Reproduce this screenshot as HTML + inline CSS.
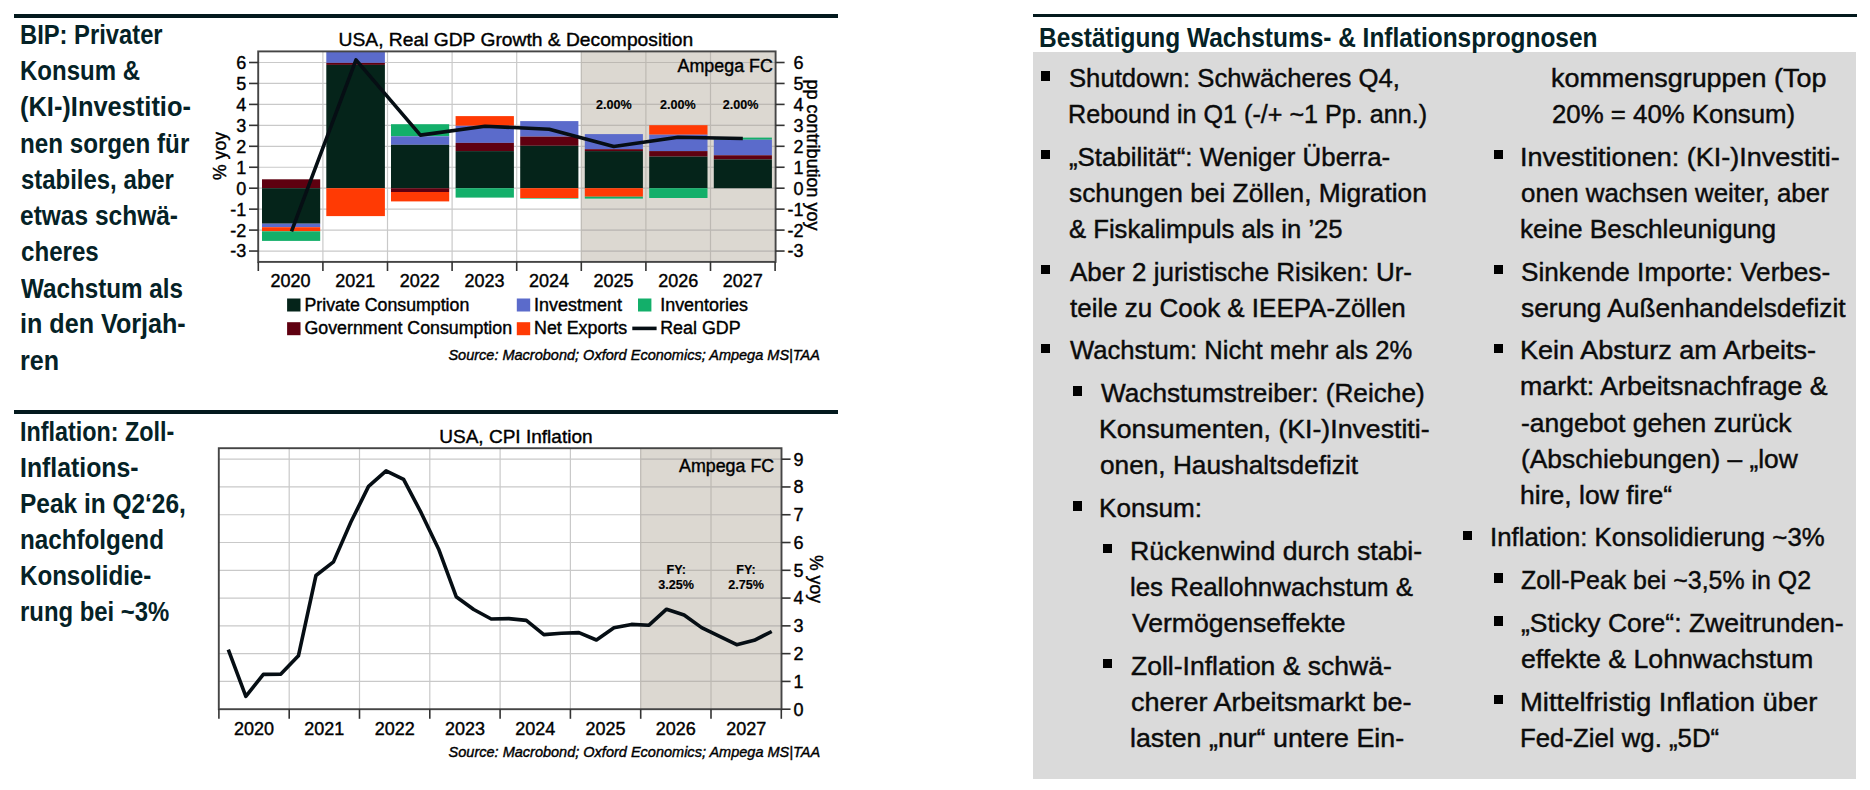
<!DOCTYPE html>
<html lang="de"><head><meta charset="utf-8"><title>Bestätigung Wachstums- &amp; Inflationsprognosen</title>
<style>
html,body{margin:0;padding:0;background:#fff;}
body{width:1870px;height:790px;overflow:hidden;position:relative;font-family:"Liberation Sans",sans-serif;}
.rule{position:absolute;height:3.5px;background:#03191d;}
.box{position:absolute;left:1033px;top:52.3px;width:822.8px;height:726.4px;background:#dadada;}
.t{position:absolute;white-space:nowrap;line-height:1;transform-origin:0 0;}
.bu{position:absolute;width:9.4px;height:9.6px;background:#000;}
.ch{position:absolute;left:0;top:0;}
.ch .g{stroke:#c9c9c9;stroke-width:1.2;}
.ch .gs{stroke:#bdb9b3;stroke-width:1.2;}
.ch .fr{fill:none;stroke:#454545;stroke-width:1.9;}
.ch .tk{stroke:#333;stroke-width:1.6;}
.ch .ax{font-family:"Liberation Sans",sans-serif;font-size:18px;fill:#000;stroke:#000;stroke-width:0.4px;}
</style></head><body>
<div class="rule" style="left:13.6px;top:14px;width:824.4px"></div>
<div class="rule" style="left:13.6px;top:410.4px;width:824.4px"></div>
<div class="rule" style="left:1033px;top:13.8px;width:824px"></div>
<div class="box"></div>
<svg class="ch" width="840" height="790" viewBox="0 0 840 790"><rect x="581.5" y="51.4" width="194.1" height="210.5" fill="#dcd8d1"/>
<line x1="258.2" x2="775.6" y1="251.05" y2="251.05" class="g"/>
<line x1="258.2" x2="775.6" y1="230.1" y2="230.1" class="g"/>
<line x1="258.2" x2="775.6" y1="209.15" y2="209.15" class="g"/>
<line x1="258.2" x2="775.6" y1="188.2" y2="188.2" class="g"/>
<line x1="258.2" x2="775.6" y1="167.25" y2="167.25" class="g"/>
<line x1="258.2" x2="775.6" y1="146.3" y2="146.3" class="g"/>
<line x1="258.2" x2="775.6" y1="125.35" y2="125.35" class="g"/>
<line x1="258.2" x2="775.6" y1="104.4" y2="104.4" class="g"/>
<line x1="258.2" x2="775.6" y1="83.45" y2="83.45" class="g"/>
<line x1="258.2" x2="775.6" y1="62.5" y2="62.5" class="g"/>
<line x1="322.9" x2="322.9" y1="51.4" y2="261.9" class="g"/>
<line x1="387.5" x2="387.5" y1="51.4" y2="261.9" class="g"/>
<line x1="452.1" x2="452.1" y1="51.4" y2="261.9" class="g"/>
<line x1="516.7" x2="516.7" y1="51.4" y2="261.9" class="g"/>
<line x1="581.3" x2="581.3" y1="51.4" y2="261.9" class="gs"/>
<line x1="645.9" x2="645.9" y1="51.4" y2="261.9" class="gs"/>
<line x1="710.5" x2="710.5" y1="51.4" y2="261.9" class="gs"/>
<line x1="581.5" x2="775.6" y1="251.05" y2="251.05" class="gs"/>
<line x1="581.5" x2="775.6" y1="230.1" y2="230.1" class="gs"/>
<line x1="581.5" x2="775.6" y1="209.15" y2="209.15" class="gs"/>
<line x1="581.5" x2="775.6" y1="188.2" y2="188.2" class="gs"/>
<line x1="581.5" x2="775.6" y1="167.25" y2="167.25" class="gs"/>
<line x1="581.5" x2="775.6" y1="146.3" y2="146.3" class="gs"/>
<line x1="581.5" x2="775.6" y1="125.35" y2="125.35" class="gs"/>
<line x1="581.5" x2="775.6" y1="104.4" y2="104.4" class="gs"/>
<line x1="581.5" x2="775.6" y1="83.45" y2="83.45" class="gs"/>
<line x1="581.5" x2="775.6" y1="62.5" y2="62.5" class="gs"/>
<rect x="262.0" y="179.3" width="58.2" height="8.9" fill="#5f0010"/>
<rect x="262.0" y="188.2" width="58.2" height="35.5" fill="#05241a"/>
<rect x="262.0" y="223.7" width="58.2" height="3.5" fill="#5b6bcb"/>
<rect x="262.0" y="227.2" width="58.2" height="4.1" fill="#ff3a04"/>
<rect x="262.0" y="231.3" width="58.2" height="9.6" fill="#13af6a"/>
<rect x="326.3" y="51.4" width="58.6" height="11.5" fill="#5b6bcb"/>
<rect x="326.3" y="62.9" width="58.6" height="2" fill="#5f0010"/>
<rect x="326.3" y="64.9" width="58.6" height="123.3" fill="#05241a"/>
<rect x="326.3" y="188.2" width="58.6" height="27.9" fill="#ff3a04"/>
<rect x="391.0" y="124.2" width="58.2" height="12.1" fill="#13af6a"/>
<rect x="391.0" y="136.3" width="58.2" height="8.5" fill="#5b6bcb"/>
<rect x="391.0" y="144.8" width="58.2" height="43.4" fill="#05241a"/>
<rect x="391.0" y="188.2" width="58.2" height="3.8" fill="#5f0010"/>
<rect x="391.0" y="192.0" width="58.2" height="9.4" fill="#ff3a04"/>
<rect x="455.6" y="116.1" width="58.3" height="9.7" fill="#ff3a04"/>
<rect x="455.6" y="125.8" width="58.3" height="17.1" fill="#5b6bcb"/>
<rect x="455.6" y="142.9" width="58.3" height="8.2" fill="#5f0010"/>
<rect x="455.6" y="151.1" width="58.3" height="37.1" fill="#05241a"/>
<rect x="455.6" y="188.2" width="58.3" height="9.4" fill="#13af6a"/>
<rect x="520.2" y="121.1" width="58.2" height="15.5" fill="#5b6bcb"/>
<rect x="520.2" y="136.6" width="58.2" height="9.2" fill="#5f0010"/>
<rect x="520.2" y="145.8" width="58.2" height="42.4" fill="#05241a"/>
<rect x="520.2" y="188.2" width="58.2" height="9.8" fill="#ff3a04"/>
<rect x="520.2" y="198.0" width="58.2" height="0.6" fill="#13af6a"/>
<rect x="584.8" y="134.1" width="58.1" height="15.1" fill="#5b6bcb"/>
<rect x="584.8" y="149.2" width="58.1" height="1.9" fill="#5f0010"/>
<rect x="584.8" y="151.1" width="58.1" height="37.1" fill="#05241a"/>
<rect x="584.8" y="188.2" width="58.1" height="8.5" fill="#ff3a04"/>
<rect x="584.8" y="196.7" width="58.1" height="1.9" fill="#13af6a"/>
<rect x="649.2" y="125.2" width="58.3" height="9.5" fill="#ff3a04"/>
<rect x="649.2" y="134.7" width="58.3" height="16.4" fill="#5b6bcb"/>
<rect x="649.2" y="151.1" width="58.3" height="5.5" fill="#5f0010"/>
<rect x="649.2" y="156.6" width="58.3" height="31.6" fill="#05241a"/>
<rect x="649.2" y="188.2" width="58.3" height="9.8" fill="#13af6a"/>
<rect x="713.8" y="137.6" width="58.1" height="2.1" fill="#13af6a"/>
<rect x="713.8" y="139.7" width="58.1" height="15.6" fill="#5b6bcb"/>
<rect x="713.8" y="155.3" width="58.1" height="4.1" fill="#5f0010"/>
<rect x="713.8" y="159.4" width="58.1" height="28.8" fill="#05241a"/>
<polyline fill="none" stroke="#060e14" stroke-width="3.6" stroke-linejoin="round" points="291.5,231.3 356.0,59.9 420.4,135.1 485.0,126.2 549.2,129.2 613.8,146.5 678.0,137.2 742.8,138.5"/>
<rect x="258.2" y="51.4" width="517.4" height="210.5" class="fr"/>
<line x1="249" x2="258.2" y1="251.05" y2="251.05" class="tk"/>
<line x1="775.6" x2="784.6" y1="251.05" y2="251.05" class="tk"/>
<text x="246.2" y="257.45" text-anchor="end" class="ax">-3</text>
<text x="803.6" y="257.45" text-anchor="end" class="ax">-3</text>
<line x1="249" x2="258.2" y1="230.1" y2="230.1" class="tk"/>
<line x1="775.6" x2="784.6" y1="230.1" y2="230.1" class="tk"/>
<text x="246.2" y="236.5" text-anchor="end" class="ax">-2</text>
<text x="803.6" y="236.5" text-anchor="end" class="ax">-2</text>
<line x1="249" x2="258.2" y1="209.15" y2="209.15" class="tk"/>
<line x1="775.6" x2="784.6" y1="209.15" y2="209.15" class="tk"/>
<text x="246.2" y="215.55" text-anchor="end" class="ax">-1</text>
<text x="803.6" y="215.55" text-anchor="end" class="ax">-1</text>
<line x1="249" x2="258.2" y1="188.2" y2="188.2" class="tk"/>
<line x1="775.6" x2="784.6" y1="188.2" y2="188.2" class="tk"/>
<text x="246.2" y="194.6" text-anchor="end" class="ax">0</text>
<text x="803.6" y="194.6" text-anchor="end" class="ax">0</text>
<line x1="249" x2="258.2" y1="167.25" y2="167.25" class="tk"/>
<line x1="775.6" x2="784.6" y1="167.25" y2="167.25" class="tk"/>
<text x="246.2" y="173.65" text-anchor="end" class="ax">1</text>
<text x="803.6" y="173.65" text-anchor="end" class="ax">1</text>
<line x1="249" x2="258.2" y1="146.3" y2="146.3" class="tk"/>
<line x1="775.6" x2="784.6" y1="146.3" y2="146.3" class="tk"/>
<text x="246.2" y="152.7" text-anchor="end" class="ax">2</text>
<text x="803.6" y="152.7" text-anchor="end" class="ax">2</text>
<line x1="249" x2="258.2" y1="125.35" y2="125.35" class="tk"/>
<line x1="775.6" x2="784.6" y1="125.35" y2="125.35" class="tk"/>
<text x="246.2" y="131.75" text-anchor="end" class="ax">3</text>
<text x="803.6" y="131.75" text-anchor="end" class="ax">3</text>
<line x1="249" x2="258.2" y1="104.4" y2="104.4" class="tk"/>
<line x1="775.6" x2="784.6" y1="104.4" y2="104.4" class="tk"/>
<text x="246.2" y="110.8" text-anchor="end" class="ax">4</text>
<text x="803.6" y="110.8" text-anchor="end" class="ax">4</text>
<line x1="249" x2="258.2" y1="83.45" y2="83.45" class="tk"/>
<line x1="775.6" x2="784.6" y1="83.45" y2="83.45" class="tk"/>
<text x="246.2" y="89.85" text-anchor="end" class="ax">5</text>
<text x="803.6" y="89.85" text-anchor="end" class="ax">5</text>
<line x1="249" x2="258.2" y1="62.5" y2="62.5" class="tk"/>
<line x1="775.6" x2="784.6" y1="62.5" y2="62.5" class="tk"/>
<text x="246.2" y="68.9" text-anchor="end" class="ax">6</text>
<text x="803.6" y="68.9" text-anchor="end" class="ax">6</text>
<line x1="258.3" x2="258.3" y1="261.9" y2="271" class="tk"/>
<line x1="322.9" x2="322.9" y1="261.9" y2="271" class="tk"/>
<line x1="387.5" x2="387.5" y1="261.9" y2="271" class="tk"/>
<line x1="452.1" x2="452.1" y1="261.9" y2="271" class="tk"/>
<line x1="516.7" x2="516.7" y1="261.9" y2="271" class="tk"/>
<line x1="581.3" x2="581.3" y1="261.9" y2="271" class="tk"/>
<line x1="645.9" x2="645.9" y1="261.9" y2="271" class="tk"/>
<line x1="710.5" x2="710.5" y1="261.9" y2="271" class="tk"/>
<line x1="775.1" x2="775.1" y1="261.9" y2="271" class="tk"/>
<text x="290.6" y="287.1" text-anchor="middle" class="ax">2020</text>
<text x="355.2" y="287.1" text-anchor="middle" class="ax">2021</text>
<text x="419.8" y="287.1" text-anchor="middle" class="ax">2022</text>
<text x="484.4" y="287.1" text-anchor="middle" class="ax">2023</text>
<text x="549" y="287.1" text-anchor="middle" class="ax">2024</text>
<text x="613.6" y="287.1" text-anchor="middle" class="ax">2025</text>
<text x="678.2" y="287.1" text-anchor="middle" class="ax">2026</text>
<text x="742.8" y="287.1" text-anchor="middle" class="ax">2027</text>
<text x="338.6" y="46.3" class="ax" style="font-size:19px" textLength="354.6" lengthAdjust="spacingAndGlyphs">USA, Real GDP Growth &amp; Decomposition</text>
<text x="677.6" y="71.9" class="ax" style="font-size:17.6px" textLength="95.2" lengthAdjust="spacingAndGlyphs">Ampega FC</text>
<text x="613.8" y="109" text-anchor="middle" class="ax" style="font-size:12.6px;font-weight:bold;stroke-width:0.15px">2.00%</text>
<text x="677.9" y="109" text-anchor="middle" class="ax" style="font-size:12.6px;font-weight:bold;stroke-width:0.15px">2.00%</text>
<text x="740.6" y="109" text-anchor="middle" class="ax" style="font-size:12.6px;font-weight:bold;stroke-width:0.15px">2.00%</text>
<text transform="translate(225.9,156) rotate(-90)" text-anchor="middle" class="ax" style="font-size:17.6px">% yoy</text>
<text transform="translate(807.3,155) rotate(90)" text-anchor="middle" class="ax" style="font-size:18px">pp contribution yoy</text>
<rect x="287.1" y="298.5" width="13.4" height="13" fill="#05241a"/>
<rect x="516.8" y="298.5" width="13.4" height="13" fill="#5b6bcb"/>
<rect x="638.0" y="298.5" width="13.4" height="13" fill="#13af6a"/>
<rect x="287.1" y="322.2" width="13.4" height="13" fill="#5f0010"/>
<rect x="516.8" y="322.2" width="13.4" height="13" fill="#ff3a04"/>
<line x1="632.3" x2="656.6" y1="328.4" y2="328.4" stroke="#060e14" stroke-width="3.6"/>
<text x="304.5" y="310.7" class="ax" style="font-size:17.6px" textLength="164.8" lengthAdjust="spacingAndGlyphs">Private Consumption</text>
<text x="534.1" y="310.7" class="ax" style="font-size:17.6px" textLength="87.9" lengthAdjust="spacingAndGlyphs">Investment</text>
<text x="660.2" y="310.7" class="ax" style="font-size:17.6px" textLength="87.7" lengthAdjust="spacingAndGlyphs">Inventories</text>
<text x="304.5" y="334.0" class="ax" style="font-size:17.6px" textLength="207.6" lengthAdjust="spacingAndGlyphs">Government Consumption</text>
<text x="534.1" y="334.0" class="ax" style="font-size:17.6px" textLength="93" lengthAdjust="spacingAndGlyphs">Net Exports</text>
<text x="660.2" y="334.0" class="ax" style="font-size:17.6px" textLength="80.4" lengthAdjust="spacingAndGlyphs">Real GDP</text>
<text x="448.4" y="360" class="ax" style="font-size:14.6px;font-style:italic" textLength="371.6" lengthAdjust="spacingAndGlyphs">Source: Macrobond; Oxford Economics; Ampega MS|TAA</text>
<rect x="640.7" y="448.2" width="140.8" height="261" fill="#dcd8d1"/>
<line x1="218.8" x2="781.5" y1="681.42" y2="681.42" class="g"/>
<line x1="218.8" x2="781.5" y1="653.64" y2="653.64" class="g"/>
<line x1="218.8" x2="781.5" y1="625.86" y2="625.86" class="g"/>
<line x1="218.8" x2="781.5" y1="598.08" y2="598.08" class="g"/>
<line x1="218.8" x2="781.5" y1="570.3" y2="570.3" class="g"/>
<line x1="218.8" x2="781.5" y1="542.52" y2="542.52" class="g"/>
<line x1="218.8" x2="781.5" y1="514.74" y2="514.74" class="g"/>
<line x1="218.8" x2="781.5" y1="486.96" y2="486.96" class="g"/>
<line x1="218.8" x2="781.5" y1="459.18" y2="459.18" class="g"/>
<line x1="289.2" x2="289.2" y1="448.2" y2="709.2" class="g"/>
<line x1="359.5" x2="359.5" y1="448.2" y2="709.2" class="g"/>
<line x1="429.8" x2="429.8" y1="448.2" y2="709.2" class="g"/>
<line x1="500.1" x2="500.1" y1="448.2" y2="709.2" class="g"/>
<line x1="570.4" x2="570.4" y1="448.2" y2="709.2" class="g"/>
<line x1="640.7" x2="640.7" y1="448.2" y2="709.2" class="gs"/>
<line x1="711" x2="711" y1="448.2" y2="709.2" class="gs"/>
<line x1="640.7" x2="781.5" y1="681.42" y2="681.42" class="gs"/>
<line x1="640.7" x2="781.5" y1="653.64" y2="653.64" class="gs"/>
<line x1="640.7" x2="781.5" y1="625.86" y2="625.86" class="gs"/>
<line x1="640.7" x2="781.5" y1="598.08" y2="598.08" class="gs"/>
<line x1="640.7" x2="781.5" y1="570.3" y2="570.3" class="gs"/>
<line x1="640.7" x2="781.5" y1="542.52" y2="542.52" class="gs"/>
<line x1="640.7" x2="781.5" y1="514.74" y2="514.74" class="gs"/>
<line x1="640.7" x2="781.5" y1="486.96" y2="486.96" class="gs"/>
<line x1="640.7" x2="781.5" y1="459.18" y2="459.18" class="gs"/>
<polyline fill="none" stroke="#060e14" stroke-width="3.6" stroke-linejoin="round" points="228.3,649.6 245.83,696.3 263.36,674.4 280.89,674.1 298.42,655.8 315.95,575.5 333.48,561.9 351.01,521.8 368.54,486.4 386.07,470.8 403.6,479.3 421.13,512.7 438.66,549.2 456.19,596.7 473.72,609.5 491.25,619.0 508.78,618.6 526.31,620.4 543.84,634.6 561.37,633.2 578.9,632.6 596.43,640.0 613.96,627.8 631.49,624.4 649.02,625.2 666.55,609.2 684.08,615.0 701.61,627.6 719.14,636.2 736.67,644.7 754.2,640.3 771.73,631.5"/>
<rect x="218.8" y="448.2" width="562.7" height="261" class="fr"/>
<line x1="781.5" x2="790.6" y1="709.2" y2="709.2" class="tk"/>
<text x="803.6" y="715.6" text-anchor="end" class="ax">0</text>
<line x1="781.5" x2="790.6" y1="681.42" y2="681.42" class="tk"/>
<text x="803.6" y="687.82" text-anchor="end" class="ax">1</text>
<line x1="781.5" x2="790.6" y1="653.64" y2="653.64" class="tk"/>
<text x="803.6" y="660.04" text-anchor="end" class="ax">2</text>
<line x1="781.5" x2="790.6" y1="625.86" y2="625.86" class="tk"/>
<text x="803.6" y="632.26" text-anchor="end" class="ax">3</text>
<line x1="781.5" x2="790.6" y1="598.08" y2="598.08" class="tk"/>
<text x="803.6" y="604.48" text-anchor="end" class="ax">4</text>
<line x1="781.5" x2="790.6" y1="570.3" y2="570.3" class="tk"/>
<text x="803.6" y="576.7" text-anchor="end" class="ax">5</text>
<line x1="781.5" x2="790.6" y1="542.52" y2="542.52" class="tk"/>
<text x="803.6" y="548.92" text-anchor="end" class="ax">6</text>
<line x1="781.5" x2="790.6" y1="514.74" y2="514.74" class="tk"/>
<text x="803.6" y="521.14" text-anchor="end" class="ax">7</text>
<line x1="781.5" x2="790.6" y1="486.96" y2="486.96" class="tk"/>
<text x="803.6" y="493.36" text-anchor="end" class="ax">8</text>
<line x1="781.5" x2="790.6" y1="459.18" y2="459.18" class="tk"/>
<text x="803.6" y="465.58" text-anchor="end" class="ax">9</text>
<line x1="218.9" x2="218.9" y1="709.2" y2="718.8" class="tk"/>
<line x1="289.2" x2="289.2" y1="709.2" y2="718.8" class="tk"/>
<line x1="359.5" x2="359.5" y1="709.2" y2="718.8" class="tk"/>
<line x1="429.8" x2="429.8" y1="709.2" y2="718.8" class="tk"/>
<line x1="500.1" x2="500.1" y1="709.2" y2="718.8" class="tk"/>
<line x1="570.4" x2="570.4" y1="709.2" y2="718.8" class="tk"/>
<line x1="640.7" x2="640.7" y1="709.2" y2="718.8" class="tk"/>
<line x1="711" x2="711" y1="709.2" y2="718.8" class="tk"/>
<line x1="781.3" x2="781.3" y1="709.2" y2="718.8" class="tk"/>
<text x="254.05" y="734.7" text-anchor="middle" class="ax">2020</text>
<text x="324.35" y="734.7" text-anchor="middle" class="ax">2021</text>
<text x="394.65" y="734.7" text-anchor="middle" class="ax">2022</text>
<text x="464.95" y="734.7" text-anchor="middle" class="ax">2023</text>
<text x="535.25" y="734.7" text-anchor="middle" class="ax">2024</text>
<text x="605.55" y="734.7" text-anchor="middle" class="ax">2025</text>
<text x="675.85" y="734.7" text-anchor="middle" class="ax">2026</text>
<text x="746.15" y="734.7" text-anchor="middle" class="ax">2027</text>
<text x="439.2" y="443" class="ax" style="font-size:19px" textLength="153.4" lengthAdjust="spacingAndGlyphs">USA, CPI Inflation</text>
<text x="679" y="472.2" class="ax" style="font-size:17.6px" textLength="95.2" lengthAdjust="spacingAndGlyphs">Ampega FC</text>
<text x="676.2" y="573.9" text-anchor="middle" class="ax" style="font-size:12.6px;font-weight:bold;stroke-width:0.15px">FY:</text>
<text x="676.2" y="588.7" text-anchor="middle" class="ax" style="font-size:12.6px;font-weight:bold;stroke-width:0.15px">3.25%</text>
<text x="746" y="573.9" text-anchor="middle" class="ax" style="font-size:12.6px;font-weight:bold;stroke-width:0.15px">FY:</text>
<text x="746" y="588.7" text-anchor="middle" class="ax" style="font-size:12.6px;font-weight:bold;stroke-width:0.15px">2.75%</text>
<text transform="translate(809.7,579) rotate(90)" text-anchor="middle" class="ax" style="font-size:17.6px">% yoy</text>
<text x="448.6" y="756.9" class="ax" style="font-size:14.6px;font-style:italic" textLength="371.6" lengthAdjust="spacingAndGlyphs">Source: Macrobond; Oxford Economics; Ampega MS|TAA</text></svg>
<div class="t" style="left:19.64px;top:21.94px;font-size:27px;font-weight:bold;color:#052226;transform:scaleX(0.8800)">BIP: Privater</div>
<div class="t" style="left:19.62px;top:58.14px;font-size:27px;font-weight:bold;color:#052226;transform:scaleX(0.8886)">Konsum &amp;</div>
<div class="t" style="left:20.46px;top:94.14px;font-size:27px;font-weight:bold;color:#052226;transform:scaleX(0.9419)">(KI-)Investitio-</div>
<div class="t" style="left:19.61px;top:130.54px;font-size:27px;font-weight:bold;color:#052226;transform:scaleX(0.8957)">nen sorgen für</div>
<div class="t" style="left:20.51px;top:167.04px;font-size:27px;font-weight:bold;color:#052226;transform:scaleX(0.8860)">stabiles, aber</div>
<div class="t" style="left:20.49px;top:203.04px;font-size:27px;font-weight:bold;color:#052226;transform:scaleX(0.9076)">etwas schwä-</div>
<div class="t" style="left:20.51px;top:239.44px;font-size:27px;font-weight:bold;color:#052226;transform:scaleX(0.8929)">cheres</div>
<div class="t" style="left:21.4px;top:275.54px;font-size:27px;font-weight:bold;color:#052226;transform:scaleX(0.8972)">Wachstum als</div>
<div class="t" style="left:19.54px;top:311.24px;font-size:27px;font-weight:bold;color:#052226;transform:scaleX(0.9309)">in den Vorjah-</div>
<div class="t" style="left:19.54px;top:347.74px;font-size:27px;font-weight:bold;color:#052226;transform:scaleX(0.9289)">ren</div>
<div class="t" style="left:19.87px;top:418.74px;font-size:27px;font-weight:bold;color:#052226;transform:scaleX(0.8640)">Inflation: Zoll-</div>
<div class="t" style="left:19.76px;top:454.64px;font-size:27px;font-weight:bold;color:#052226;transform:scaleX(0.9190)">Inflations-</div>
<div class="t" style="left:19.79px;top:490.84px;font-size:27px;font-weight:bold;color:#052226;transform:scaleX(0.9056)">Peak in Q2‘26,</div>
<div class="t" style="left:19.81px;top:526.84px;font-size:27px;font-weight:bold;color:#052226;transform:scaleX(0.8968)">nachfolgend</div>
<div class="t" style="left:19.81px;top:563.04px;font-size:27px;font-weight:bold;color:#052226;transform:scaleX(0.8931)">Konsolidie-</div>
<div class="t" style="left:19.83px;top:598.94px;font-size:27px;font-weight:bold;color:#052226;transform:scaleX(0.8843)">rung bei ~3%</div>
<div class="t" style="left:1038.89px;top:25.34px;font-size:27px;font-weight:bold;color:#052226;transform:scaleX(0.9051)">Bestätigung Wachstums- &amp; Inflationsprognosen</div>
<div class="t" style="left:1069.04px;top:64.8px;font-size:26.7px;font-weight:normal;-webkit-text-stroke:0.45px;color:#0b0b0b;transform:scaleX(0.9613)">Shutdown: Schwächeres Q4,</div>
<div class="t" style="left:1068.12px;top:100.9px;font-size:26.7px;font-weight:normal;-webkit-text-stroke:0.45px;color:#0b0b0b;transform:scaleX(0.9418)">Rebound in Q1 (-/+ ~1 Pp. ann.)</div>
<div class="t" style="left:1069.03px;top:143.6px;font-size:26.7px;font-weight:normal;-webkit-text-stroke:0.45px;color:#0b0b0b;transform:scaleX(0.9682)">„Stabilität“: Weniger Überra-</div>
<div class="t" style="left:1069.02px;top:179.7px;font-size:26.7px;font-weight:normal;-webkit-text-stroke:0.45px;color:#0b0b0b;transform:scaleX(0.9845)">schungen bei Zöllen, Migration</div>
<div class="t" style="left:1069.04px;top:215.8px;font-size:26.7px;font-weight:normal;-webkit-text-stroke:0.45px;color:#0b0b0b;transform:scaleX(0.9608)">&amp; Fiskalimpuls als in ’25</div>
<div class="t" style="left:1070px;top:258.5px;font-size:26.7px;font-weight:normal;-webkit-text-stroke:0.45px;color:#0b0b0b;transform:scaleX(0.9729)">Aber 2 juristische Risiken: Ur-</div>
<div class="t" style="left:1070px;top:294.6px;font-size:26.7px;font-weight:normal;-webkit-text-stroke:0.45px;color:#0b0b0b;transform:scaleX(0.9730)">teile zu Cook &amp; IEEPA-Zöllen</div>
<div class="t" style="left:1070px;top:337.3px;font-size:26.7px;font-weight:normal;-webkit-text-stroke:0.45px;color:#0b0b0b;transform:scaleX(0.9601)">Wachstum: Nicht mehr als 2%</div>
<div class="t" style="left:1100.9px;top:380px;font-size:26.7px;font-weight:normal;-webkit-text-stroke:0.45px;color:#0b0b0b;transform:scaleX(0.9817)">Wachstumstreiber: (Reiche)</div>
<div class="t" style="left:1098.9px;top:416.1px;font-size:26.7px;font-weight:normal;-webkit-text-stroke:0.45px;color:#0b0b0b;transform:scaleX(0.9994)">Konsumenten, (KI-)Investiti-</div>
<div class="t" style="left:1099.92px;top:452.2px;font-size:26.7px;font-weight:normal;-webkit-text-stroke:0.45px;color:#0b0b0b;transform:scaleX(0.9828)">onen, Haushaltsdefizit</div>
<div class="t" style="left:1098.95px;top:494.9px;font-size:26.7px;font-weight:normal;-webkit-text-stroke:0.45px;color:#0b0b0b;transform:scaleX(0.9772)">Konsum:</div>
<div class="t" style="left:1129.7px;top:537.6px;font-size:26.7px;font-weight:normal;-webkit-text-stroke:0.45px;color:#0b0b0b;transform:scaleX(0.9997)">Rückenwind durch stabi-</div>
<div class="t" style="left:1129.76px;top:573.7px;font-size:26.7px;font-weight:normal;-webkit-text-stroke:0.45px;color:#0b0b0b;transform:scaleX(0.9683)">les Reallohnwachstum &amp;</div>
<div class="t" style="left:1131.7px;top:609.8px;font-size:26.7px;font-weight:normal;-webkit-text-stroke:0.45px;color:#0b0b0b;transform:scaleX(0.9953)">Vermögenseffekte</div>
<div class="t" style="left:1130.71px;top:652.5px;font-size:26.7px;font-weight:normal;-webkit-text-stroke:0.45px;color:#0b0b0b;transform:scaleX(0.9931)">Zoll-Inflation &amp; schwä-</div>
<div class="t" style="left:1130.69px;top:688.6px;font-size:26.7px;font-weight:normal;-webkit-text-stroke:0.45px;color:#0b0b0b;transform:scaleX(1.0116)">cherer Arbeitsmarkt be-</div>
<div class="t" style="left:1129.69px;top:724.7px;font-size:26.7px;font-weight:normal;-webkit-text-stroke:0.45px;color:#0b0b0b;transform:scaleX(1.0041)">lasten „nur“ untere Ein-</div>
<div class="t" style="left:1550.98px;top:64.8px;font-size:26.7px;font-weight:normal;-webkit-text-stroke:0.45px;color:#0b0b0b;transform:scaleX(1.0089)">kommensgruppen (Top</div>
<div class="t" style="left:1552.03px;top:100.9px;font-size:26.7px;font-weight:normal;-webkit-text-stroke:0.45px;color:#0b0b0b;transform:scaleX(0.9671)">20% = 40% Konsum)</div>
<div class="t" style="left:1520.18px;top:143.6px;font-size:26.7px;font-weight:normal;-webkit-text-stroke:0.45px;color:#0b0b0b;transform:scaleX(1.0125)">Investitionen: (KI-)Investiti-</div>
<div class="t" style="left:1521.23px;top:179.7px;font-size:26.7px;font-weight:normal;-webkit-text-stroke:0.45px;color:#0b0b0b;transform:scaleX(0.9693)">onen wachsen weiter, aber</div>
<div class="t" style="left:1520.24px;top:215.8px;font-size:26.7px;font-weight:normal;-webkit-text-stroke:0.45px;color:#0b0b0b;transform:scaleX(0.9810)">keine Beschleunigung</div>
<div class="t" style="left:1521.22px;top:258.5px;font-size:26.7px;font-weight:normal;-webkit-text-stroke:0.45px;color:#0b0b0b;transform:scaleX(0.9783)">Sinkende Importe: Verbes-</div>
<div class="t" style="left:1521.21px;top:294.6px;font-size:26.7px;font-weight:normal;-webkit-text-stroke:0.45px;color:#0b0b0b;transform:scaleX(0.9854)">serung Außenhandelsdefizit</div>
<div class="t" style="left:1520.17px;top:337.3px;font-size:26.7px;font-weight:normal;-webkit-text-stroke:0.45px;color:#0b0b0b;transform:scaleX(1.0131)">Kein Absturz am Arbeits-</div>
<div class="t" style="left:1520.2px;top:373.4px;font-size:26.7px;font-weight:normal;-webkit-text-stroke:0.45px;color:#0b0b0b;transform:scaleX(1.0016)">markt: Arbeitsnachfrage &amp;</div>
<div class="t" style="left:1521.21px;top:409.5px;font-size:26.7px;font-weight:normal;-webkit-text-stroke:0.45px;color:#0b0b0b;transform:scaleX(0.9912)">-angebot gehen zurück</div>
<div class="t" style="left:1521.21px;top:445.6px;font-size:26.7px;font-weight:normal;-webkit-text-stroke:0.45px;color:#0b0b0b;transform:scaleX(0.9871)">(Abschiebungen) – „low</div>
<div class="t" style="left:1520.21px;top:481.7px;font-size:26.7px;font-weight:normal;-webkit-text-stroke:0.45px;color:#0b0b0b;transform:scaleX(0.9953)">hire, low fire“</div>
<div class="t" style="left:1489.97px;top:524.4px;font-size:26.7px;font-weight:normal;-webkit-text-stroke:0.45px;color:#0b0b0b;transform:scaleX(0.9660)">Inflation: Konsolidierung ~3%</div>
<div class="t" style="left:1521.27px;top:567.1px;font-size:26.7px;font-weight:normal;-webkit-text-stroke:0.45px;color:#0b0b0b;transform:scaleX(0.9333)">Zoll-Peak bei ~3,5% in Q2</div>
<div class="t" style="left:1521.21px;top:609.8px;font-size:26.7px;font-weight:normal;-webkit-text-stroke:0.45px;color:#0b0b0b;transform:scaleX(0.9932)">„Sticky Core“: Zweitrunden-</div>
<div class="t" style="left:1521.2px;top:645.9px;font-size:26.7px;font-weight:normal;-webkit-text-stroke:0.45px;color:#0b0b0b;transform:scaleX(1.0014)">effekte &amp; Lohnwachstum</div>
<div class="t" style="left:1520.14px;top:688.6px;font-size:26.7px;font-weight:normal;-webkit-text-stroke:0.45px;color:#0b0b0b;transform:scaleX(1.0286)">Mittelfristig Inflation über</div>
<div class="t" style="left:1520.27px;top:724.7px;font-size:26.7px;font-weight:normal;-webkit-text-stroke:0.45px;color:#0b0b0b;transform:scaleX(0.9660)">Fed-Ziel wg. „5D“</div>
<div class="bu" style="left:1041px;top:71.1px"></div>
<div class="bu" style="left:1041px;top:149.9px"></div>
<div class="bu" style="left:1041px;top:264.8px"></div>
<div class="bu" style="left:1041px;top:343.6px"></div>
<div class="bu" style="left:1072.5px;top:386.3px"></div>
<div class="bu" style="left:1072.5px;top:501.2px"></div>
<div class="bu" style="left:1102.8px;top:543.9px"></div>
<div class="bu" style="left:1102.8px;top:658.8px"></div>
<div class="bu" style="left:1493.5px;top:149.9px"></div>
<div class="bu" style="left:1493.5px;top:264.8px"></div>
<div class="bu" style="left:1493.5px;top:343.6px"></div>
<div class="bu" style="left:1463px;top:530.7px"></div>
<div class="bu" style="left:1493.5px;top:573.4px"></div>
<div class="bu" style="left:1493.5px;top:616.1px"></div>
<div class="bu" style="left:1493.5px;top:694.9px"></div>
</body></html>
